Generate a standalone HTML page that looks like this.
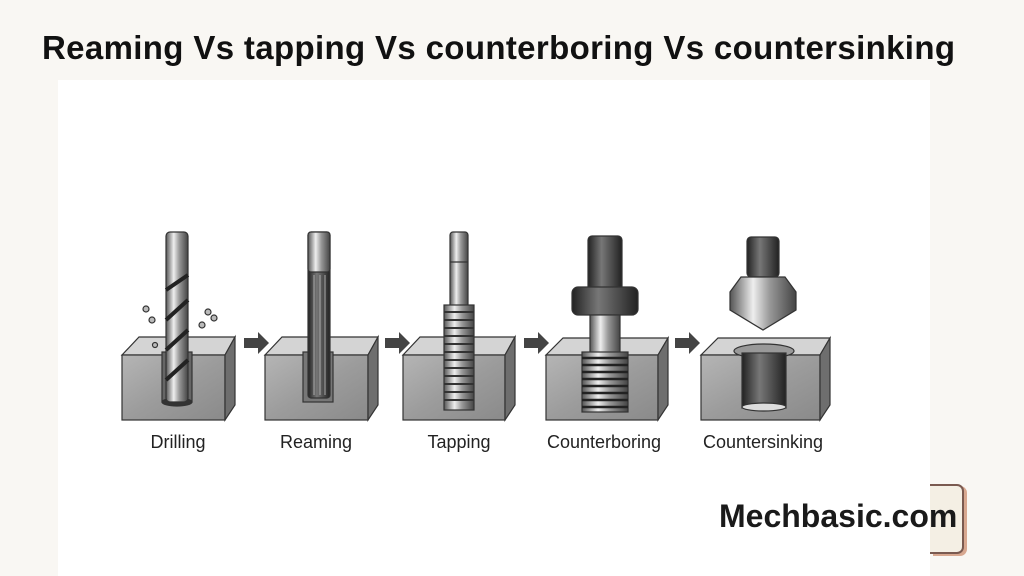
<!DOCTYPE html>
<html><head><meta charset="utf-8"><style>
html,body{margin:0;padding:0;}
body{width:1024px;height:576px;background:#f9f7f3;position:relative;overflow:hidden;font-family:"Liberation Sans",sans-serif;}
.title{position:absolute;left:42px;top:29px;font-size:33px;font-weight:bold;color:#111;white-space:nowrap;letter-spacing:0.35px;}
.panel{position:absolute;left:58px;top:80px;width:872px;height:496px;background:#fff;}
.badge{position:absolute;left:930px;top:484px;width:32px;height:66px;background:#f4efe4;border:2px solid #7a5a50;border-left:none;border-radius:0 7px 7px 0;box-shadow:3px 2px 0 #d8a890;}
.mb{position:absolute;left:719px;top:498px;font-size:32px;font-weight:bold;color:#1a1a1a;white-space:nowrap;}
.lbl{position:absolute;top:432px;font-size:18px;color:#222;white-space:nowrap;transform:translateX(-50%);}
</style></head><body>
<div class="title">Reaming Vs tapping Vs counterboring Vs countersinking</div>
<div class="panel"></div>
<div class="badge"></div>
<svg width="1024" height="576" style="position:absolute;left:0;top:0">
<defs>
<linearGradient id="front" x1="0" y1="0" x2="1" y2="1"><stop offset="0" stop-color="#b5b5b5"/><stop offset="0.5" stop-color="#9c9c9c"/><stop offset="1" stop-color="#8a8a8a"/></linearGradient>
<linearGradient id="cyl" x1="0" x2="1"><stop offset="0" stop-color="#555"/><stop offset="0.35" stop-color="#eee"/><stop offset="0.6" stop-color="#999"/><stop offset="1" stop-color="#444"/></linearGradient>
<linearGradient id="dcyl" x1="0" x2="1"><stop offset="0" stop-color="#222"/><stop offset="0.4" stop-color="#777"/><stop offset="1" stop-color="#222"/></linearGradient>
</defs>
<g stroke="#333" stroke-width="1.2">
<polygon points="139,337 235,337 225,355 122,355" fill="#d4d4d4"/>
<rect x="122" y="355" width="103" height="65" fill="url(#front)"/>
<polygon points="225,355 235,337 235,405 225,420" fill="#6e6e6e"/>
<polygon points="282,337 378,337 368,355 265,355" fill="#d4d4d4"/>
<rect x="265" y="355" width="103" height="65" fill="url(#front)"/>
<polygon points="368,355 378,337 378,405 368,420" fill="#6e6e6e"/>
<polygon points="420,337 515,337 505,355 403,355" fill="#d4d4d4"/>
<rect x="403" y="355" width="102" height="65" fill="url(#front)"/>
<polygon points="505,355 515,337 515,405 505,420" fill="#6e6e6e"/>
<polygon points="563,338 668,338 658,355 546,355" fill="#d4d4d4"/>
<rect x="546" y="355" width="112" height="65" fill="url(#front)"/>
<polygon points="658,355 668,338 668,405 658,420" fill="#6e6e6e"/>
<polygon points="718,338 830,338 820,355 701,355" fill="#d4d4d4"/>
<rect x="701" y="355" width="119" height="65" fill="url(#front)"/>
<polygon points="820,355 830,338 830,405 820,420" fill="#6e6e6e"/>
<rect x="162" y="352" width="30" height="50" fill="#666"/>
<ellipse cx="177" cy="402" rx="15" ry="4" fill="#333"/>
<rect x="166" y="232" width="22" height="170" rx="4" fill="url(#cyl)"/>
<path d="M166,290 L188,275 M166,320 L188,300 M166,350 L188,330 M166,380 L188,360" stroke="#222" stroke-width="4"/>
<g fill="#bbb"><circle cx="146" cy="309" r="3"/><circle cx="152" cy="320" r="3"/><circle cx="208" cy="312" r="3"/><circle cx="202" cy="325" r="3"/><circle cx="214" cy="318" r="3"/><circle cx="155" cy="345" r="2.5"/></g>
<rect x="303" y="352" width="30" height="50" fill="#777"/>
<rect x="308" y="232" width="22" height="166" rx="3" fill="url(#dcyl)"/>
<rect x="308" y="232" width="22" height="40" rx="3" fill="url(#cyl)"/>
<path d="M314,275 V395 M320,275 V395 M325,275 V395" stroke="#aaa" stroke-width="1"/>
<rect x="450" y="232" width="18" height="80" rx="3" fill="url(#cyl)"/>
<line x1="450" y1="262" x2="468" y2="262"/>
<rect x="444" y="305" width="30" height="105" fill="url(#cyl)"/>
<path d="M444,312 H474 M444,320 H474 M444,328 H474 M444,336 H474 M444,344 H474 M444,352 H474 M444,360 H474 M444,368 H474 M444,376 H474 M444,384 H474 M444,392 H474 M444,400 H474" stroke="#333" stroke-width="2"/>
<rect x="588" y="236" width="34" height="60" rx="4" fill="url(#dcyl)"/>
<rect x="572" y="287" width="66" height="28" rx="6" fill="url(#dcyl)"/>
<rect x="590" y="315" width="30" height="40" fill="url(#cyl)"/>
<rect x="582" y="352" width="46" height="60" fill="url(#cyl)"/>
<path d="M582,358 H628 M582,365 H628 M582,372 H628 M582,379 H628 M582,386 H628 M582,393 H628 M582,400 H628 M582,407 H628" stroke="#222" stroke-width="2.5"/>
<rect x="747" y="237" width="32" height="40" rx="4" fill="url(#dcyl)"/>
<polygon points="741,277 785,277 796,292 796,310 763,330 730,310 730,292" fill="url(#cyl)"/>
<ellipse cx="764" cy="351" rx="30" ry="7" fill="#999"/>
<rect x="742" y="353" width="44" height="55" fill="url(#dcyl)"/>
<ellipse cx="764" cy="407" rx="22" ry="4" fill="#ddd"/>
</g>
<g fill="#444">
<polygon points="244,338 258,338 258,332 269,343 258,354 258,348 244,348"/>
<polygon points="385,338 399,338 399,332 410,343 399,354 399,348 385,348"/>
<polygon points="524,338 538,338 538,332 549,343 538,354 538,348 524,348"/>
<polygon points="675,338 689,338 689,332 700,343 689,354 689,348 675,348"/>
</g>
</svg>
<div class="lbl" style="left:178px">Drilling</div>
<div class="lbl" style="left:316px">Reaming</div>
<div class="lbl" style="left:459px">Tapping</div>
<div class="lbl" style="left:604px">Counterboring</div>
<div class="lbl" style="left:763px">Countersinking</div>
<div class="mb">Mechbasic.com</div>
</body></html>
